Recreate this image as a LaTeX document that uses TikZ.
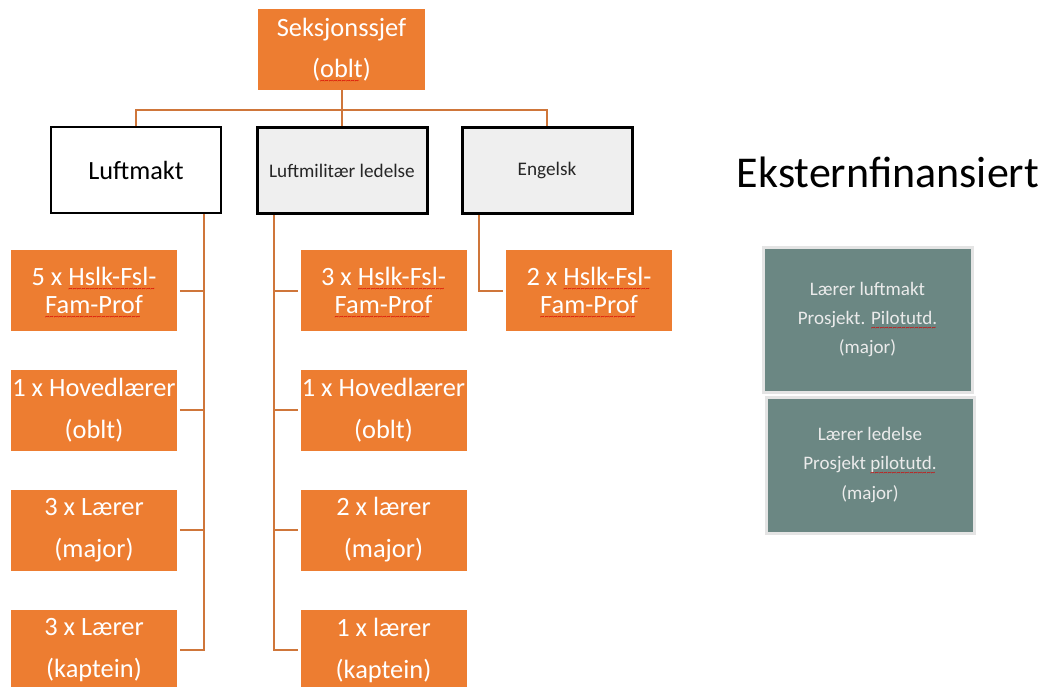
\documentclass[tikz,border=0pt]{standalone}
\usepackage{fontspec}
\setmainfont{Carlito}
\definecolor{orangefill}{RGB}{237,125,49}
\definecolor{orangeline}{RGB}{207,118,58}
\definecolor{greyfill}{RGB}{239,239,239}
\definecolor{sagefill}{RGB}{107,135,131}
\definecolor{sageline}{RGB}{228,228,228}
\newcommand\spell[1]{\setbox0\hbox{#1}\rlap{\color{red!85!black}\raisebox{-4.5pt}[0pt][0pt]{\hbox to \wd0{\fontsize{6.5}{6.5}\selectfont\leaders\hbox{\char"7E}\hfill}}}\box0}

\begin{document}
\begin{tikzpicture}[x=0.75pt,y=-0.75pt,
  orangebox/.style={fill=orangefill, text=white, inner sep=0pt, align=center,
    minimum width=124.5pt, minimum height=60.75pt, font=\fontsize{19.8}{31.5}\selectfont},
  tightbox/.style={orangebox, font=\fontsize{19.8}{21}\selectfont},
  unitbox/.style={draw=black, line width=2.25pt, inner sep=0pt, text=black!85,
    minimum width=127.5pt, minimum height=64.5pt, font=\fontsize{14.4}{17}\selectfont},
  sagebox/.style={fill=sagefill, draw=sageline, line width=2.25pt, text=white!92!black,
    inner sep=0pt, align=center, font=\fontsize{14.3}{22}\selectfont},
  link/.style={draw=orangeline, line width=1.5pt}]
\useasboundingbox (0,0) rectangle (1048,686);

\node[orangebox, minimum width=125.25pt, font=\fontsize{19.8}{30.5}\selectfont] (chief) at (341.5,49.5) {Seksjonssjef\\(\spell{oblt})};
\node[unitbox, line width=1.5pt, fill=white, text=black, font=\fontsize{19.7}{24}\selectfont] (luft) at (136,170) {Luftmakt};
\node[unitbox, fill=greyfill] (mil) at (342,170.5) {Luftmilitær ledelse};
\node[unitbox, fill=greyfill] (eng) at (547,170.5) {Engelsk};

\node[tightbox] (l1) at (94,290.5) {5 x \spell{Hslk-Fsl-}\\\spell{Fam-Prof}};
\node[orangebox] (l2) at (94,410) {1 x Hovedlærer\\(oblt)};
\node[orangebox] (l3) at (94,530) {3 x Lærer\\(major)};
\node[orangebox] (l4) at (94,650) {3 x Lærer\\(kaptein)};

\node[tightbox] (m1) at (383.5,290.5) {3 x \spell{Hslk-Fsl-}\\\spell{Fam-Prof}};
\node[orangebox] (m2) at (383.5,410) {1 x Hovedlærer\\(oblt)};
\node[orangebox] (m3) at (383.5,530) {2 x lærer\\(major)};
\node[orangebox] (m4) at (383.5,650) {1 x lærer\\(kaptein)};

\node[tightbox] (e1) at (589,290.5) {2 x \spell{Hslk-Fsl-}\\\spell{Fam-Prof}};

\node[font=\fontsize{33}{40}\selectfont] (ext) at (888,172) {Eksternfinansiert};
\node[sagebox, minimum width=156.75pt, minimum height=108.75pt] (s1) at (867.5,319.5) {Lærer luftmakt\\Prosjekt. \spell{Pilotutd.}\\(major)};
\node[sagebox, minimum width=156pt, minimum height=102pt] (s2) at (870,465) {Lærer ledelse\\Prosjekt \spell{pilotutd.}\\(major)};

\coordinate (bar) at (0,110);
\draw[link] (chief.south) -- (chief.south |- bar);
\draw[link] (luft.north) -- (luft.north |- bar) -- (eng.north |- bar) -- (eng.north);
\draw[link] (mil.north) -- (mil.north |- bar);

\coordinate (luftbus) at (204,0);
\draw[link] (luftbus |- luft.south) -- (luftbus |- l4.east) -- ([xshift=2pt]l4.east);
\foreach \n in {l1,l2,l3}
  \draw[link] ([xshift=2pt]\n.east) -- (luftbus |- \n.east);

\coordinate (milbus) at (274,0);
\draw[link] (milbus |- mil.south) -- (milbus |- m4.west) -- ([xshift=-2pt]m4.west);
\foreach \n in {m1,m2,m3}
  \draw[link] ([xshift=-2pt]\n.west) -- (milbus |- \n.west);

\coordinate (engbus) at (479,0);
\draw[link] (engbus |- eng.south) -- (engbus |- e1.west) -- ([xshift=-2pt]e1.west);
\end{tikzpicture}
\end{document}
